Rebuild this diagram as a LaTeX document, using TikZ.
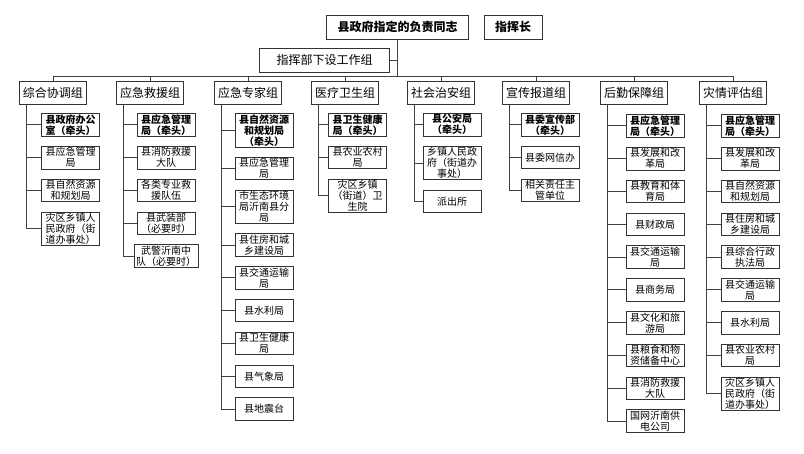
\documentclass[tikz,border=0pt]{standalone}
\usepackage{fontspec}
\setmainfont{Noto Sans CJK SC}
\usetikzlibrary{positioning}
\tikzset{
    chief/.style={rectangle, draw=black!80, line width=0.8pt, font=\bfseries\fontsize{12}{14}\selectfont, minimum height=24pt, inner xsep=11pt},
    staff/.style={rectangle, draw=black!80, line width=0.8pt, font=\fontsize{12}{14}\selectfont, minimum height=24pt, inner xsep=17pt},
    grpbox/.style={rectangle, draw=black!80, line width=0.8pt, font=\fontsize{12}{14}\selectfont, minimum height=23pt, inner xsep=3.5pt},
    unitbox/.style={rectangle, draw=black!80, line width=0.8pt, font=\fontsize{10}{11}\selectfont, align=center, minimum width=58pt, minimum height=22.5pt, inner xsep=2pt, inner ysep=1pt},
    leadbox/.style={unitbox, font=\bfseries\fontsize{10}{11}\selectfont},
    link/.style={draw=black!75, line width=0.8pt}
}

\begin{document}
\begin{tikzpicture}[x=1pt, y=-1pt, node distance=9.5pt]
\useasboundingbox (0,0) rectangle (804,454);

% Command level
\node[chief] (head) at (397.5,27) {县政府指定的负责同志};
\node[chief] (cmdr) at (513,27) {指挥长};
\node[staff] (office) at (324.5,60) {指挥部下设工作组};
\coordinate (bus) at (0,76);

% Working groups
\node[grpbox] (g1) at (53,92.5) {综合协调组};
\node[grpbox] (g2) at (150,92.5) {应急救援组};
\node[grpbox] (g3) at (248,92.5) {应急专家组};
\node[grpbox] (g4) at (345,92.5) {医疗卫生组};
\node[grpbox] (g5) at (441,92.5) {社会治安组};
\node[grpbox] (g6) at (536,92.5) {宣传报道组};
\node[grpbox] (g7) at (634,92.5) {后勤保障组};
\node[grpbox] (g8) at (733,92.5) {灾情评估组};

% Group 1
\node[leadbox, anchor=north] (u1-1) at (70.5,113) {县政府办公\\室（牵头）};
\node[unitbox, below=of u1-1] (u1-2) {县应急管理\\局};
\node[unitbox, below=of u1-2] (u1-3) {县自然资源\\和规划局};
\node[unitbox, below=of u1-3] (u1-4) {灾区乡镇人\\民政府（街\\道办事处）};

% Group 2
\node[leadbox, anchor=north] (u2-1) at (166,113) {县应急管理\\局（牵头）};
\node[unitbox, below=of u2-1] (u2-2) {县消防救援\\大队};
\node[unitbox, below=of u2-2] (u2-3) {各类专业救\\援队伍};
\node[unitbox, below=of u2-3] (u2-4) {县武装部\\（必要时）};
\node[unitbox, below=of u2-4] (u2-5) {武警沂南中\\队（必要时）};

% Group 3
\node[leadbox, anchor=north] (u3-1) at (264,113) {县自然资源\\和规划局\\（牵头）};
\node[unitbox, below=of u3-1] (u3-2) {县应急管理\\局};
\node[unitbox, below=of u3-2] (u3-3) {市生态环境\\局沂南县分\\局};
\node[unitbox, below=of u3-3] (u3-4) {县住房和城\\乡建设局};
\node[unitbox, below=of u3-4] (u3-5) {县交通运输\\局};
\node[unitbox, below=of u3-5] (u3-6) {县水利局};
\node[unitbox, below=of u3-6] (u3-7) {县卫生健康\\局};
\node[unitbox, below=of u3-7] (u3-8) {县气象局};
\node[unitbox, below=of u3-8] (u3-9) {县地震台};

% Group 4
\node[leadbox, anchor=north] (u4-1) at (357.5,113) {县卫生健康\\局（牵头）};
\node[unitbox, below=of u4-1] (u4-2) {县农业农村\\局};
\node[unitbox, below=of u4-2] (u4-3) {灾区乡镇\\（街道）卫\\生院};

% Group 5
\node[leadbox, anchor=north] (u5-1) at (452,113) {县公安局\\（牵头）};
\node[unitbox, below=of u5-1] (u5-2) {乡镇人民政\\府（街道办\\事处）};
\node[unitbox, below=of u5-2] (u5-3) {派出所};

% Group 6
\node[leadbox, anchor=north] (u6-1) at (550,113) {县委宣传部\\（牵头）};
\node[unitbox, below=of u6-1] (u6-2) {县委网信办};
\node[unitbox, below=of u6-2] (u6-3) {相关责任主\\管单位};

% Group 7
\node[leadbox, anchor=north] (u7-1) at (655,114) {县应急管理\\局（牵头）};
\node[unitbox, below=of u7-1] (u7-2) {县发展和改\\革局};
\node[unitbox, below=of u7-2] (u7-3) {县教育和体\\育局};
\node[unitbox, below=of u7-3] (u7-4) {县财政局};
\node[unitbox, below=of u7-4] (u7-5) {县交通运输\\局};
\node[unitbox, below=of u7-5] (u7-6) {县商务局};
\node[unitbox, below=of u7-6] (u7-7) {县文化和旅\\游局};
\node[unitbox, below=of u7-7] (u7-8) {县粮食和物\\资储备中心};
\node[unitbox, below=of u7-8] (u7-9) {县消防救援\\大队};
\node[unitbox, below=of u7-9] (u7-10) {国网沂南供\\电公司};

% Group 8
\node[leadbox, anchor=north] (u8-1) at (750,114) {县应急管理\\局（牵头）};
\node[unitbox, below=of u8-1] (u8-2) {县发展和改\\革局};
\node[unitbox, below=of u8-2] (u8-3) {县自然资源\\和规划局};
\node[unitbox, below=of u8-3] (u8-4) {县住房和城\\乡建设局};
\node[unitbox, below=of u8-4] (u8-5) {县综合行政\\执法局};
\node[unitbox, below=of u8-5] (u8-6) {县交通运输\\局};
\node[unitbox, below=of u8-6] (u8-7) {县水利局};
\node[unitbox, below=of u8-7] (u8-8) {县农业农村\\局};
\node[unitbox, below=of u8-8] (u8-9) {灾区乡镇人\\民政府（街\\道办事处）};

% Connectors
\draw[link] (head.south) -- (head.south |- bus);
\draw[link] (office.east) -- (office.east -| head.south);
\draw[link] (g1.north |- bus) -- (g8.north |- bus);
\foreach \i in {1,...,8}
  \draw[link] (g\i.north) -- (g\i.north |- bus);
\foreach \i/\n in {1/4,2/5,3/9,4/3,5/3,6/3,7/10,8/9}
  \foreach \k in {1,...,\n}
    \draw[link] ([xshift=7pt]g\i.south west) |- (u\i-\k.west);

\end{tikzpicture}
\end{document}
